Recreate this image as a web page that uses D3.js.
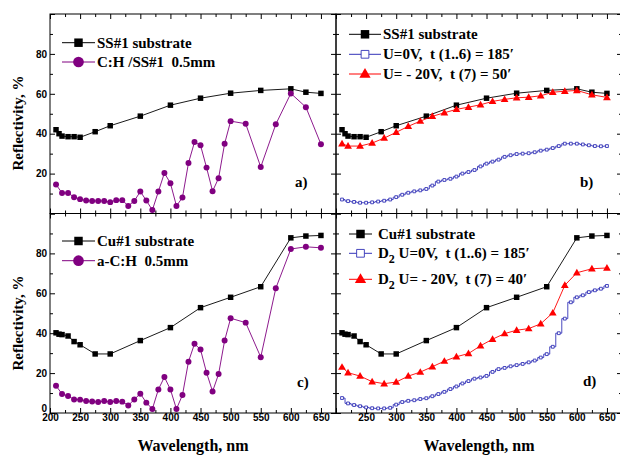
<!DOCTYPE html>
<html>
<head>
<meta charset="utf-8">
<script src="https://cdn.jsdelivr.net/npm/d3@7"></script>
<style>
  body { margin: 0; background: #fff; }
  svg { display: block; }
  .tick text { font-family: "Liberation Sans", Arial, sans-serif; font-weight: bold; font-size: 10px; fill: #000; }
  .serif { font-family: "Liberation Serif", "Times New Roman", serif; font-weight: bold; fill: #000; }
</style>
</head>
<body>
<svg id="chart" width="620" height="456"></svg>
<script>
// ---- data (wavelength in nm, reflectivity in %) ----
const subWl = [210, 215, 220, 230, 240, 250, 275, 300, 350, 400, 450, 500, 550, 600, 625, 650];
const ssR   = [42.0, 40.0, 38.8, 38.5, 38.5, 38.2, 41.0, 44.0, 48.8, 54.3, 57.8, 60.3, 61.7, 62.5, 60.8, 60.2];
const cuR   = [40.2, 39.5, 39.3, 38.6, 35.8, 34.2, 29.6, 29.6, 36.3, 42.8, 52.8, 58.0, 63.3, 87.8, 88.7, 89.0];

const filmWl = [210, 220, 230, 240, 250, 260, 270, 280, 290, 300, 310, 320, 330, 340, 350,
                360, 370, 380, 390, 400, 410, 420, 430, 440, 450, 460, 470, 480, 490, 500,
                525, 550, 575, 600, 625, 650];
const chSsR  = [14.5, 10.3, 10.3, 8.2, 7.2, 6.5, 6.3, 6.3, 6.3, 5.7, 6.7, 6.7, 3.8, 6.3, 11.0,
                6.5, 1.7, 11.0, 20.3, 15.2, 3.8, 8.0, 25.3, 35.8, 34.2, 23.0, 11.2, 17.7, 35.0, 46.3,
                45.0, 23.3, 44.7, 60.2, 53.3, 34.7];
const achCuR = [13.7, 9.5, 8.5, 6.8, 6.7, 6.0, 5.8, 5.5, 6.0, 5.5, 6.0, 5.7, 3.8, 6.8, 9.7,
                5.2, 2.0, 11.8, 18.0, 11.8, 2.0, 9.0, 25.7, 34.7, 31.8, 20.2, 10.8, 19.5, 36.3, 47.5,
                45.3, 28.0, 62.5, 82.2, 83.3, 82.8];

const biasWl  = [210, 220, 240, 260, 280, 300, 320, 340, 360, 380, 400, 420, 440, 460, 480,
                 500, 520, 540, 560, 580, 600, 625, 650];
const biasSsR = [35.0, 33.8, 33.8, 35.3, 37.8, 40.7, 43.7, 46.3, 48.7, 50.5, 52.2, 53.3, 54.5, 56.2, 57.2,
                 58.0, 58.3, 59.0, 60.8, 61.3, 61.7, 59.5, 58.2];
const biasCuR = [23.0, 20.2, 18.5, 15.7, 14.7, 15.5, 18.5, 20.5, 23.2, 26.0, 28.2, 29.8, 33.7, 37.0, 39.8,
                 41.5, 42.3, 44.7, 50.2, 64.0, 70.3, 72.3, 72.7];

const zeroWl  = [210, 220, 230, 240, 250, 260, 270, 280, 290, 300, 310, 320, 330, 340, 350,
                 360, 370, 380, 390, 400, 410, 420, 430, 440, 450, 460, 470, 480, 490, 500,
                 510, 520, 530, 540, 550, 560, 570, 580, 590, 600, 610, 620, 630, 640, 650];
const zeroSsR = [7.0, 6.2, 5.8, 5.4, 5.4, 5.6, 6.0, 6.4, 7.0, 8.2, 9.4, 10.4, 11.1, 11.6, 12.3,
                 14.0, 16.0, 16.8, 17.4, 18.5, 20.0, 20.8, 21.8, 23.6, 25.0, 26.0, 27.0, 28.4, 29.2, 29.8,
                 30.0, 30.2, 30.7, 31.5, 32.0, 32.8, 33.8, 35.0, 35.0, 35.0, 34.6, 34.2, 33.8, 33.7, 33.8];
const zeroCuR = [7.5, 4.8, 4.0, 3.4, 2.8, 2.4, 2.3, 2.3, 2.6, 4.2, 5.5, 6.1, 6.4, 7.0, 7.4,
                 8.4, 9.5, 10.6, 12.0, 13.3, 14.8, 16.0, 17.2, 17.8, 18.6, 20.6, 22.0, 22.6, 23.4, 24.0,
                 24.6, 25.4, 26.3, 27.8, 29.5, 33.2, 40.0, 47.3, 55.5, 58.0, 59.0, 60.6, 61.5, 62.3, 63.7];

const xMajor = [200, 250, 300, 350, 400, 450, 500, 550, 600, 650];
const xMinor = [225, 275, 325, 375, 425, 475, 525, 575, 625];
const yMajor = [0, 20, 40, 60, 80, 100];
const yMinor = [10, 30, 50, 70, 90];

const BLACK = '#000', PURPLE = '#800080', RED = '#ff0000', BLUE = '#3333b8';

class Panel {

  constructor(_config) {
    this.config = {
      parent: _config.parent,
      left: _config.left,
      top: _config.top,
      width: _config.width || 286,
      height: _config.height || 199.5,
      label: _config.label,
      labelPos: _config.labelPos,
      xLabels: _config.xLabels || [],
      yLabels: _config.yLabels || [],
      series: _config.series,
      legend: _config.legend
    };
    this.initVis();
  }

  initVis() {
    let vis = this;
    const c = vis.config;

    vis.xScale = d3.scaleLinear().domain([200, 675]).range([c.left, c.left + c.width]);
    vis.yScale = d3.scaleLinear().domain([0, 100]).range([c.top + c.height, c.top]);

    vis.g = c.parent.append('g');

    // frame
    vis.g.append('rect')
      .attr('x', c.left).attr('y', c.top)
      .attr('width', c.width).attr('height', c.height)
      .attr('fill', 'none').attr('stroke', '#000').attr('stroke-width', 1);

    const bottomY = c.top + c.height, rightX = c.left + c.width;
    const fmtX = d => c.xLabels.includes(d) ? d : '';
    const fmtY = d => c.yLabels.includes(d) ? d : '';

    // ticks point inwards on every side
    vis.addAxis(d3.axisBottom(vis.xScale).tickValues(xMajor).tickSize(-5).tickPadding(1).tickFormat(fmtX), 0, bottomY);
    vis.addAxis(d3.axisBottom(vis.xScale).tickValues(xMinor).tickSize(-3).tickFormat(''), 0, bottomY);
    vis.addAxis(d3.axisTop(vis.xScale).tickValues(xMajor).tickSize(-5).tickFormat(''), 0, c.top);
    vis.addAxis(d3.axisTop(vis.xScale).tickValues(xMinor).tickSize(-3).tickFormat(''), 0, c.top);
    const yAx = vis.addAxis(d3.axisLeft(vis.yScale).tickValues(yMajor).tickSize(-5).tickPadding(3).tickFormat(fmtY), c.left, 0);
    vis.addAxis(d3.axisLeft(vis.yScale).tickValues(yMinor).tickSize(-3).tickFormat(''), c.left, 0);
    vis.addAxis(d3.axisRight(vis.yScale).tickValues(yMajor).tickSize(-5).tickFormat(''), rightX, 0);
    vis.addAxis(d3.axisRight(vis.yScale).tickValues(yMinor).tickSize(-3).tickFormat(''), rightX, 0);

    // the "0" sits just above the corner, clear of the x labels
    yAx.selectAll('.tick').filter(d => d === 0).select('text').attr('y', -5);

    vis.g.append('text')
      .attr('class', 'serif')
      .attr('x', c.labelPos[0]).attr('y', c.labelPos[1])
      .style('font-size', '15px')
      .text(c.label);

    vis.renderVis();
  }

  addAxis(axis, tx, ty) {
    const g = this.g.append('g')
      .attr('transform', `translate(${tx},${ty})`)
      .call(axis);
    g.select('.domain').remove();
    g.attr('font-family', null).attr('font-size', null);
    return g;
  }

  symbolPath(kind, size) {
    const types = { square: d3.symbolSquare, open: d3.symbolSquare, circle: d3.symbolCircle, triangle: d3.symbolTriangle };
    return d3.symbol().type(types[kind]).size(size)();
  }

  drawMarker(g, s, x, y, size) {
    g.append('path')
      .attr('d', this.symbolPath(s.marker, size))
      .attr('transform', `translate(${x},${y + (s.marker === 'triangle' ? 0.5 : 0)})`)
      .attr('fill', s.marker === 'open' ? '#fff' : s.color)
      .attr('stroke', s.color)
      .attr('stroke-width', s.marker === 'open' ? 0.9 : 0);
  }

  renderVis() {
    let vis = this;
    const c = vis.config;

    c.series.forEach(s => {
      const pts = s.wl.map((w, i) => ({ x: w, y: s.r[i] }));
      const line = d3.line()
        .x(d => vis.xScale(d.x))
        .y(d => vis.yScale(d.y))
        .curve(s.marker === 'open' ? d3.curveStep : d3.curveLinear);

      vis.g.append('path')
        .datum(pts)
        .attr('d', line)
        .attr('fill', 'none')
        .attr('stroke', s.color)
        .attr('stroke-width', 0.9);

      const mg = vis.g.append('g');
      const sizes = { square: 30, circle: 28, triangle: 26, open: 8 };
      pts.forEach(d => vis.drawMarker(mg, s, vis.xScale(d.x), vis.yScale(d.y), sizes[s.marker]));
    });

    // legend
    const L = c.legend;
    const legSizes = { square: 72, circle: 90, triangle: 55, open: 60 };
    L.items.forEach((item, i) => {
      const s = c.series[item.series];
      const y = L.y[i];
      vis.g.append('line')
        .attr('x1', L.x1).attr('x2', L.x2).attr('y1', y).attr('y2', y)
        .attr('stroke', s.color).attr('stroke-width', 1);
      vis.drawMarker(vis.g, s, (L.x1 + L.x2) / 2, y, legSizes[s.marker]);

      const t = vis.g.append('text')
        .attr('class', 'serif')
        .attr('x', L.tx).attr('y', y + 5)
        .attr('xml:space', 'preserve')
        .style('font-size', '15px')
        .style('white-space', 'pre');
      if (item.sub) {
        t.append('tspan').text('D');
        t.append('tspan').attr('dy', 5).style('font-size', '12px').text('2');
        t.append('tspan').attr('dy', -5).text(' ' + item.text);
      } else {
        t.text(item.text);
      }
    });
  }
}

const svg = d3.select('#chart');

const ssSeries   = { wl: subWl, r: ssR, color: BLACK, marker: 'square' };
const cuSeries   = { wl: subWl, r: cuR, color: BLACK, marker: 'square' };

new Panel({
  parent: svg, left: 50, top: 14, label: 'a)', labelPos: [295, 187],
  yLabels: [20, 40, 60, 80],
  series: [ssSeries, { wl: filmWl, r: chSsR, color: PURPLE, marker: 'circle' }],
  legend: { x1: 62, x2: 95, tx: 97, y: [42.7, 62],
            items: [{ series: 0, text: 'SS#1 substrate' }, { series: 1, text: 'C:H /SS#1  0.5mm' }] }
});

new Panel({
  parent: svg, left: 336, top: 14, label: 'b)', labelPos: [580, 187],
  series: [ssSeries,
           { wl: zeroWl, r: zeroSsR, color: BLUE, marker: 'open' },
           { wl: biasWl, r: biasSsR, color: RED, marker: 'triangle' }],
  legend: { x1: 349, x2: 381, tx: 383, y: [34.3, 54.3, 74],
            items: [{ series: 0, text: 'SS#1 substrate' },
                    { series: 1, text: 'U=0V,  t (1..6) = 185\u2032' },
                    { series: 2, text: 'U= - 20V,  t (7) = 50\u2032' }] }
});

new Panel({
  parent: svg, left: 50, top: 213.5, label: 'c)', labelPos: [297, 387],
  xLabels: xMajor, yLabels: [0, 20, 40, 60, 80],
  series: [cuSeries, { wl: filmWl, r: achCuR, color: PURPLE, marker: 'circle' }],
  legend: { x1: 62, x2: 95, tx: 97, y: [241, 260.7],
            items: [{ series: 0, text: 'Cu#1 substrate' }, { series: 1, text: 'a-C:H  0.5mm' }] }
});

new Panel({
  parent: svg, left: 336, top: 213.5, label: 'd)', labelPos: [583, 386],
  xLabels: xMajor.filter(d => d > 200),
  series: [cuSeries,
           { wl: zeroWl, r: zeroCuR, color: BLUE, marker: 'open' },
           { wl: biasWl, r: biasCuR, color: RED, marker: 'triangle' }],
  legend: { x1: 349, x2: 372, tx: 378, y: [234, 253.3, 279.3],
            items: [{ series: 0, text: 'Cu#1 substrate' },
                    { series: 1, text: 'U=0V,  t (1..6) = 185\u2032', sub: true },
                    { series: 2, text: 'U= - 20V,  t (7) = 40\u2032', sub: true }] }
});

// axis titles
svg.append('text')
  .attr('class', 'serif')
  .attr('transform', 'translate(23,123) rotate(-90)')
  .attr('text-anchor', 'middle')
  .style('font-size', '15px')
  .text('Reflectivity, %');

svg.append('text')
  .attr('class', 'serif')
  .attr('transform', 'translate(23,323) rotate(-90)')
  .attr('text-anchor', 'middle')
  .style('font-size', '15px')
  .text('Reflectivity, %');

svg.append('text')
  .attr('class', 'serif')
  .attr('x', 193).attr('y', 451)
  .attr('text-anchor', 'middle')
  .style('font-size', '16px')
  .text('Wavelength, nm');

svg.append('text')
  .attr('class', 'serif')
  .attr('x', 479).attr('y', 451)
  .attr('text-anchor', 'middle')
  .style('font-size', '16px')
  .text('Wavelength, nm');
</script>
</body>
</html>
